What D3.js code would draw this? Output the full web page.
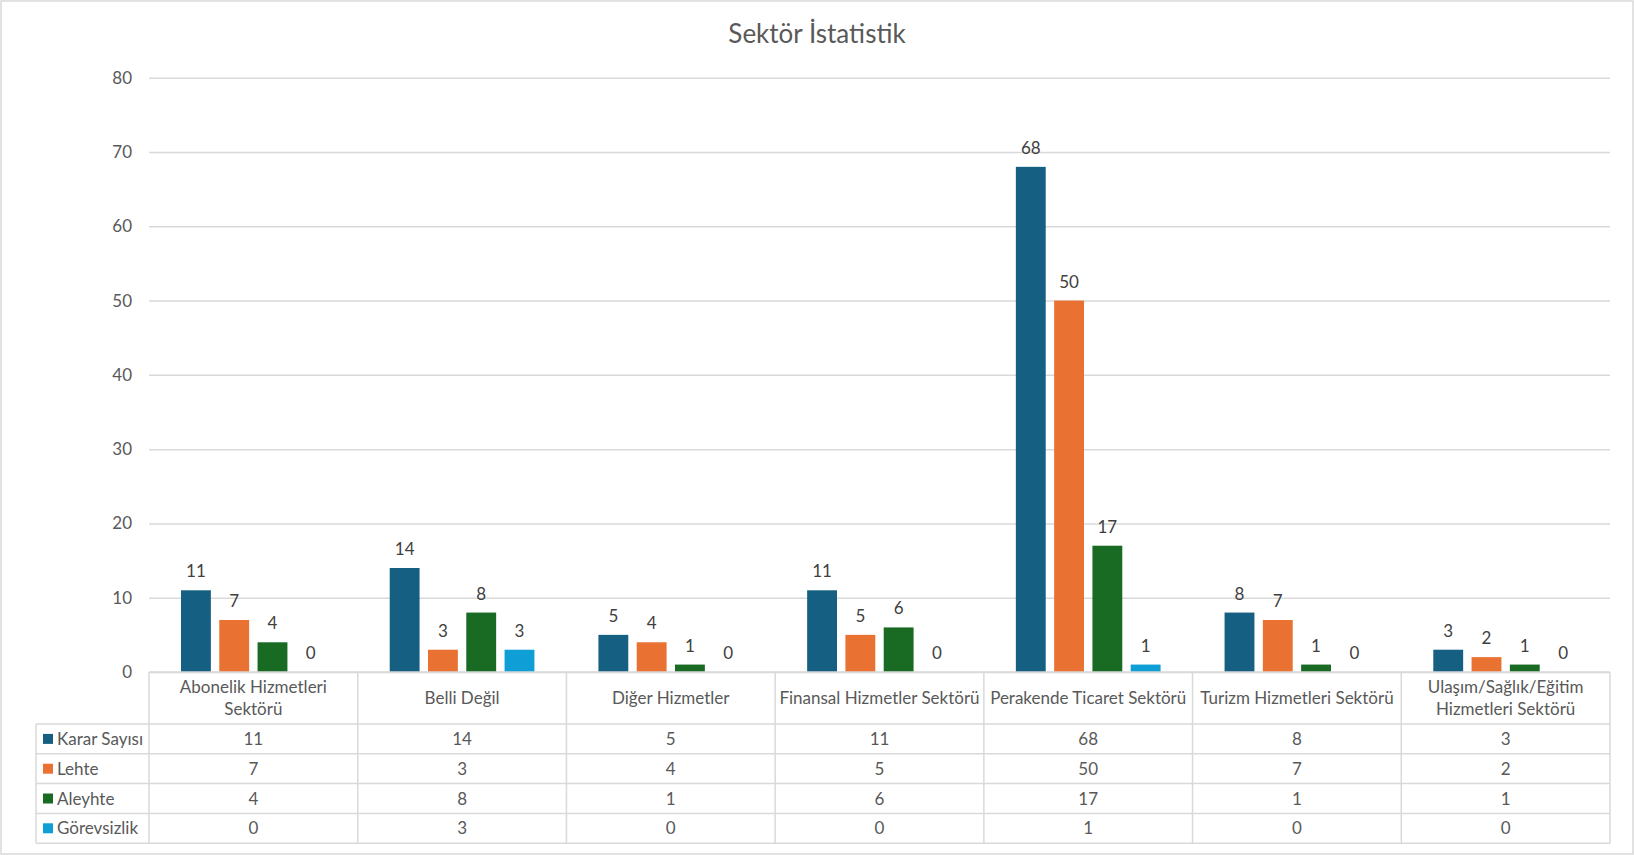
<!DOCTYPE html>
<html>
<head>
<meta charset="utf-8">
<script src="https://cdn.jsdelivr.net/npm/d3@7"></script>
<style>
  body { margin: 0; background: #fff; }
  svg { display: block; font-family: Lato, "Noto Sans", sans-serif; }
</style>
</head>
<body>
<div id="chart"></div>
<script>
// chart data
const categories = [
  "Abonelik Hizmetleri\nSektörü",
  "Belli Değil",
  "Diğer Hizmetler",
  "Finansal Hizmetler Sektörü",
  "Perakende Ticaret Sektörü",
  "Turizm Hizmetleri Sektörü",
  "Ulaşım/Sağlık/Eğitim\nHizmetleri Sektörü"
];
const seriesNames = ["Karar Sayısı", "Lehte", "Aleyhte", "Görevsizlik"];
const kararSayisi = [11, 14, 5, 11, 68, 8, 3];
const lehte = [7, 3, 4, 5, 50, 7, 2];
const aleyhte = [4, 8, 1, 6, 17, 1, 1];
const gorevsizlik = [0, 3, 0, 0, 1, 0, 0];
const yTicks = [0, 10, 20, 30, 40, 50, 60, 70, 80];

const seriesValues = [kararSayisi, lehte, aleyhte, gorevsizlik];
const colors = ["#156082", "#E97132", "#196B24", "#0F9ED5"];

const width = 1634, height = 855;
const plotLeft = 149, plotRight = 1610, plotTop = 77.7, base = 672;
const rowH = 29.8, headerBottom = 724, legendLeft = 36;
const grid = "#d9d9d9";

const svg = d3.select("#chart").append("svg")
  .attr("width", width).attr("height", height);

svg.append("rect")
  .attr("x", 1).attr("y", 1).attr("width", width - 2).attr("height", height - 2)
  .attr("fill", "#fff").attr("stroke", grid).attr("stroke-width", 1.5);

svg.append("text")
  .attr("x", width / 2).attr("y", 43)
  .attr("text-anchor", "middle")
  .attr("font-size", 26).attr("fill", "#595959")
  .text("Sektör İstatistik");

const y = d3.scaleLinear().domain([0, 80]).range([base, plotTop]);
const x0 = d3.scaleBand().domain(categories).range([plotLeft, plotRight]);
const colW = x0.bandwidth();
const x1 = d3.scaleBand().domain(seriesNames)
  .range([32, colW - 32]).paddingInner(0.22);

// gridlines + y labels
const yAxis = svg.append("g")
  .attr("transform", `translate(${plotLeft},0)`)
  .call(d3.axisLeft(y).tickValues(yTicks).tickSize(-(plotRight - plotLeft)).tickPadding(17));
yAxis.select(".domain").remove();
yAxis.selectAll(".tick line").attr("stroke", grid).attr("stroke-width", 1.5);
yAxis.selectAll(".tick text")
  .attr("font-size", 17).attr("fill", "#595959")
  .attr("font-family", "Lato, 'Noto Sans', sans-serif");

// bars
const groups = svg.append("g").selectAll("g")
  .data(categories)
  .join("g")
  .attr("transform", d => `translate(${x0(d)},0)`);

groups.selectAll("rect")
  .data((d, i) => seriesNames.map((s, j) => ({ s, v: seriesValues[j][i], j })))
  .join("rect")
  .attr("x", d => x1(d.s))
  .attr("y", d => y(d.v))
  .attr("width", x1.bandwidth())
  .attr("height", d => base - y(d.v))
  .attr("fill", d => colors[d.j]);

groups.selectAll("text")
  .data((d, i) => seriesNames.map((s, j) => ({ s, v: seriesValues[j][i], j })))
  .join("text")
  .attr("x", d => x1(d.s) + x1.bandwidth() / 2)
  .attr("y", d => y(d.v) - 13)
  .attr("text-anchor", "middle")
  .attr("font-size", 17).attr("fill", "#404040")
  .text(d => d.v);

// data table
const table = svg.append("g").attr("stroke", grid).attr("stroke-width", 1.5);
const tableBottom = headerBottom + rowH * seriesNames.length;
table.append("line").attr("x1", plotLeft).attr("x2", plotRight).attr("y1", base).attr("y2", base);
for (let r = 0; r <= seriesNames.length; r++) {
  const yy = headerBottom + r * rowH;
  table.append("line").attr("x1", legendLeft).attr("x2", plotRight).attr("y1", yy).attr("y2", yy);
}
categories.forEach(c => {
  table.append("line").attr("x1", x0(c)).attr("x2", x0(c)).attr("y1", base).attr("y2", tableBottom);
});
table.append("line").attr("x1", plotRight).attr("x2", plotRight).attr("y1", base).attr("y2", tableBottom);
table.append("line").attr("x1", legendLeft).attr("x2", legendLeft).attr("y1", headerBottom).attr("y2", tableBottom);

// category headers
categories.forEach(c => {
  const lines = c.split("\n");
  const mid = (base + headerBottom) / 2;
  const t = svg.append("text")
    .attr("text-anchor", "middle").attr("font-size", 17).attr("fill", "#595959");
  lines.forEach((ln, k) => {
    t.append("tspan")
      .attr("x", x0(c) + colW / 2)
      .attr("y", mid + 6 + (k - (lines.length - 1) / 2) * 22)
      .text(ln);
  });
});

// rows
seriesNames.forEach((s, j) => {
  const cy = headerBottom + j * rowH + rowH / 2;
  svg.append("rect")
    .attr("x", 43).attr("y", cy - 5).attr("width", 10).attr("height", 10)
    .attr("fill", colors[j]);
  svg.append("text")
    .attr("x", 57).attr("y", cy + 6)
    .attr("font-size", 17).attr("fill", "#595959")
    .text(s);
  categories.forEach((c, i) => {
    svg.append("text")
      .attr("x", x0(c) + colW / 2).attr("y", cy + 6)
      .attr("text-anchor", "middle")
      .attr("font-size", 17).attr("fill", "#595959")
      .text(seriesValues[j][i]);
  });
});
</script>
</body>
</html>
